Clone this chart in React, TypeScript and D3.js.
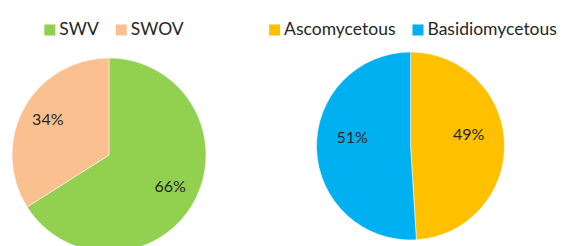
import React, { useRef, useEffect } from "react";
import * as d3 from "d3";

// left pie
const leftCategories = ["SWV", "SWOV"];
const leftValues = [66, 34];
const leftColors = ["#92D050", "#FAC090"];

// right pie
const rightCategories = ["Ascomycetous", "Basidiomycetous"];
const rightValues = [49, 51];
const rightColors = ["#FFC000", "#00B0F0"];

const FONT = "Lato, 'Open Sans', sans-serif";

const App = () => {
  const svgRef = useRef<SVGSVGElement>(null);

  const drawPie = (
    svg: d3.Selection<SVGSVGElement, unknown, null, undefined>,
    cats: string[],
    vals: number[],
    colors: string[],
    cx: number,
    cy: number,
    r: number,
    labelK: number,
    labelDy: number,
    legendCx: number
  ) => {
    const g = svg.append("g").attr("transform", `translate(${cx},${cy})`);
    const pie = d3.pie<number>().sort(null).value((d) => d);
    const arcs = pie(vals);
    const arc = d3.arc<d3.PieArcDatum<number>>().innerRadius(0).outerRadius(r);
    const labelArc = d3
      .arc<d3.PieArcDatum<number>>()
      .innerRadius(r * labelK)
      .outerRadius(r * labelK);
    const color = d3.scaleOrdinal<string, string>().domain(cats).range(colors);

    g.selectAll("path")
      .data(arcs)
      .join("path")
      .attr("d", arc)
      .attr("fill", (d, i) => color(cats[i]))
      .attr("stroke", "#fff")
      .attr("stroke-width", 0.5);

    const total = d3.sum(vals);
    g.selectAll("text")
      .data(arcs)
      .join("text")
      .attr("x", (d) => labelArc.centroid(d)[0])
      .attr("y", (d) => labelArc.centroid(d)[1] + labelDy)
      .attr("text-anchor", "middle")
      .attr("dy", "0.35em")
      .attr("font-family", FONT)
      .attr("font-size", 16)
      .attr("fill", "#262626")
      .text((d) => `${Math.round((d.value / total) * 100)}%`);

    // legend
    const lg = svg.append("g");
    let x = 0;
    cats.forEach((c, i) => {
      const item = lg.append("g").attr("transform", `translate(${x},0)`);
      item
        .append("rect")
        .attr("x", 0)
        .attr("y", 24.5)
        .attr("width", 11)
        .attr("height", 11)
        .attr("fill", color(c));
      const t = item
        .append("text")
        .attr("x", 15)
        .attr("y", 35)
        .attr("font-family", FONT)
        .attr("font-size", 17.5)
        .attr("fill", "#262626")
        .text(c);
      const w = (t.node() as SVGTextElement).getComputedTextLength();
      x += 15 + w + 17;
    });
    const totalW = x - 17;
    lg.attr("transform", `translate(${legendCx - totalW / 2},0)`);
  };

  useEffect(() => {
    const svg = d3.select(svgRef.current);
    svg.selectAll("*").remove();
    drawPie(svg, leftCategories, leftValues, leftColors, 109, 155, 97, 0.72, -2, 114);
    drawPie(svg, rightCategories, rightValues, rightColors, 410.5, 146, 94, 0.62, -10, 413);
  }, []);

  return (
    <svg
      ref={svgRef}
      width={561}
      height={246}
      style={{ position: "absolute", left: 0, top: 0, background: "#fff" }}
    />
  );
};

export default App;
